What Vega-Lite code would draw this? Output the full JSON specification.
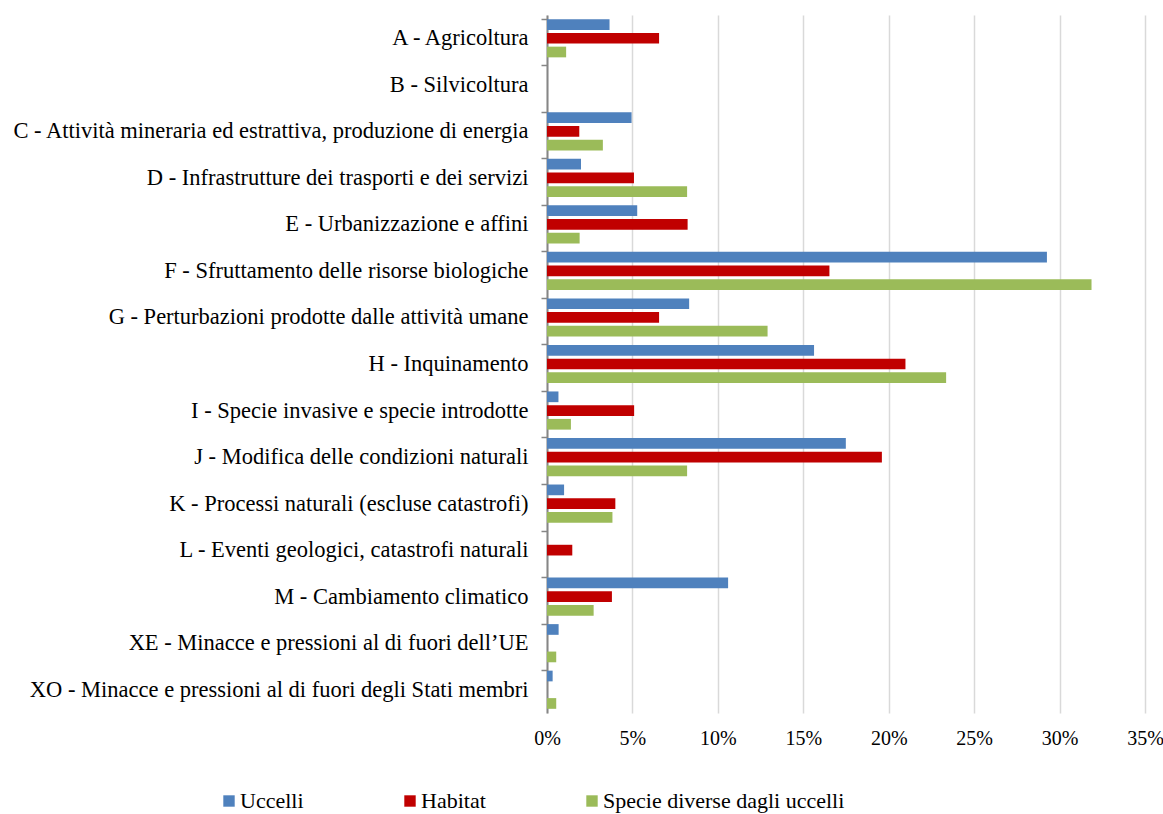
{
  "$schema": "https://vega.github.io/schema/vega-lite/v6.json",
  "width": 598,
  "height": 698,
  "autosize": {"type": "none"},
  "padding": {"left": 547, "top": 15, "right": 18, "bottom": 101},
  "config": {
    "view": {"stroke": null},
    "font": "Liberation Serif",
    "axis": {"labelFont": "Liberation Serif"},
    "legend": {"labelFont": "Liberation Serif"}
  },
  "data": {
    "values": [
      {"category": "A - Agricoltura", "series": "Uccelli", "value": 0.0366},
      {"category": "A - Agricoltura", "series": "Habitat", "value": 0.0656},
      {"category": "A - Agricoltura", "series": "Specie diverse dagli uccelli", "value": 0.0112},
      {"category": "B - Silvicoltura", "series": "Uccelli", "value": 0},
      {"category": "B - Silvicoltura", "series": "Habitat", "value": 0},
      {"category": "B - Silvicoltura", "series": "Specie diverse dagli uccelli", "value": 0},
      {"category": "C - Attività mineraria ed estrattiva, produzione di energia", "series": "Uccelli", "value": 0.0495},
      {"category": "C - Attività mineraria ed estrattiva, produzione di energia", "series": "Habitat", "value": 0.0189},
      {"category": "C - Attività mineraria ed estrattiva, produzione di energia", "series": "Specie diverse dagli uccelli", "value": 0.0327},
      {"category": "D - Infrastrutture dei trasporti e dei servizi", "series": "Uccelli", "value": 0.0199},
      {"category": "D - Infrastrutture dei trasporti e dei servizi", "series": "Habitat", "value": 0.0509},
      {"category": "D - Infrastrutture dei trasporti e dei servizi", "series": "Specie diverse dagli uccelli", "value": 0.082},
      {"category": "E - Urbanizzazione e affini", "series": "Uccelli", "value": 0.0528},
      {"category": "E - Urbanizzazione e affini", "series": "Habitat", "value": 0.0823},
      {"category": "E - Urbanizzazione e affini", "series": "Specie diverse dagli uccelli", "value": 0.0191},
      {"category": "F - Sfruttamento delle risorse biologiche", "series": "Uccelli", "value": 0.2926},
      {"category": "F - Sfruttamento delle risorse biologiche", "series": "Habitat", "value": 0.1653},
      {"category": "F - Sfruttamento delle risorse biologiche", "series": "Specie diverse dagli uccelli", "value": 0.3187},
      {"category": "G - Perturbazioni prodotte dalle attività umane", "series": "Uccelli", "value": 0.0832},
      {"category": "G - Perturbazioni prodotte dalle attività umane", "series": "Habitat", "value": 0.0656},
      {"category": "G - Perturbazioni prodotte dalle attività umane", "series": "Specie diverse dagli uccelli", "value": 0.1291},
      {"category": "H - Inquinamento", "series": "Uccelli", "value": 0.1563},
      {"category": "H - Inquinamento", "series": "Habitat", "value": 0.2098},
      {"category": "H - Inquinamento", "series": "Specie diverse dagli uccelli", "value": 0.2336},
      {"category": "I - Specie invasive e specie introdotte", "series": "Uccelli", "value": 0.0067},
      {"category": "I - Specie invasive e specie introdotte", "series": "Habitat", "value": 0.051},
      {"category": "I - Specie invasive e specie introdotte", "series": "Specie diverse dagli uccelli", "value": 0.014},
      {"category": "J - Modifica delle condizioni naturali", "series": "Uccelli", "value": 0.1749},
      {"category": "J - Modifica delle condizioni naturali", "series": "Habitat", "value": 0.196},
      {"category": "J - Modifica delle condizioni naturali", "series": "Specie diverse dagli uccelli", "value": 0.082},
      {"category": "K - Processi naturali (escluse catastrofi)", "series": "Uccelli", "value": 0.01},
      {"category": "K - Processi naturali (escluse catastrofi)", "series": "Habitat", "value": 0.04},
      {"category": "K - Processi naturali (escluse catastrofi)", "series": "Specie diverse dagli uccelli", "value": 0.0383},
      {"category": "L - Eventi geologici, catastrofi naturali", "series": "Uccelli", "value": 0},
      {"category": "L - Eventi geologici, catastrofi naturali", "series": "Habitat", "value": 0.0148},
      {"category": "L - Eventi geologici, catastrofi naturali", "series": "Specie diverse dagli uccelli", "value": 0},
      {"category": "M - Cambiamento climatico", "series": "Uccelli", "value": 0.106},
      {"category": "M - Cambiamento climatico", "series": "Habitat", "value": 0.038},
      {"category": "M - Cambiamento climatico", "series": "Specie diverse dagli uccelli", "value": 0.0273},
      {"category": "XE - Minacce e pressioni al di fuori dell’UE", "series": "Uccelli", "value": 0.0068},
      {"category": "XE - Minacce e pressioni al di fuori dell’UE", "series": "Habitat", "value": 0},
      {"category": "XE - Minacce e pressioni al di fuori dell’UE", "series": "Specie diverse dagli uccelli", "value": 0.0054},
      {"category": "XO - Minacce e pressioni al di fuori degli Stati membri", "series": "Uccelli", "value": 0.0033},
      {"category": "XO - Minacce e pressioni al di fuori degli Stati membri", "series": "Habitat", "value": 0},
      {"category": "XO - Minacce e pressioni al di fuori degli Stati membri", "series": "Specie diverse dagli uccelli", "value": 0.0054}
    ]
  },
  "mark": {"type": "bar"},
  "encoding": {
    "y": {
      "field": "category",
      "type": "nominal",
      "sort": null,
      "scale": {"paddingInner": 0.18, "paddingOuter": 0.09},
      "axis": {
        "title": null,
        "bandPosition": 0,
        "labelFont": "Liberation Serif",
        "labelFontSize": 22.5,
        "labelColor": "black",
        "labelPadding": 13,
        "labelLimit": 700,
        "tickSize": 6,
        "tickColor": "#868686",
        "tickWidth": 1.5,
        "domainColor": "#868686",
        "domainWidth": 2,
        "grid": false
      }
    },
    "yOffset": {
      "field": "series",
      "type": "nominal",
      "sort": ["Uccelli", "Habitat", "Specie diverse dagli uccelli"],
      "scale": {"paddingInner": 0.22}
    },
    "x": {
      "field": "value",
      "type": "quantitative",
      "scale": {"domain": [0, 0.35]},
      "axis": {
        "title": null,
        "values": [0, 0.05, 0.1, 0.15, 0.2, 0.25, 0.3, 0.35],
        "format": ".0%",
        "domain": false,
        "ticks": false,
        "labelFlush": false,
        "labelFont": "Liberation Serif",
        "gridColor": "#d9d9d9",
        "gridWidth": 1.5,
        "labelFontSize": 20,
        "labelPadding": 15,
        "labelColor": "black"
      }
    },
    "color": {
      "field": "series",
      "type": "nominal",
      "sort": ["Uccelli", "Habitat", "Specie diverse dagli uccelli"],
      "scale": {
        "domain": ["Uccelli", "Habitat", "Specie diverse dagli uccelli"],
        "range": ["#4f81bd", "#c00000", "#9bbb59"]
      },
      "legend": {
        "title": null,
        "orient": "none",
        "legendX": -329,
        "legendY": 775,
        "direction": "horizontal",
        "symbolType": "square",
        "symbolSize": 130,
        "symbolStrokeWidth": 0,
        "labelFont": "Liberation Serif",
        "labelFontSize": 22,
        "labelLimit": 400,
        "labelColor": "black",
        "labelOffset": 0,
        "columnPadding": 95,
        "padding": 0
      }
    }
  }
}
